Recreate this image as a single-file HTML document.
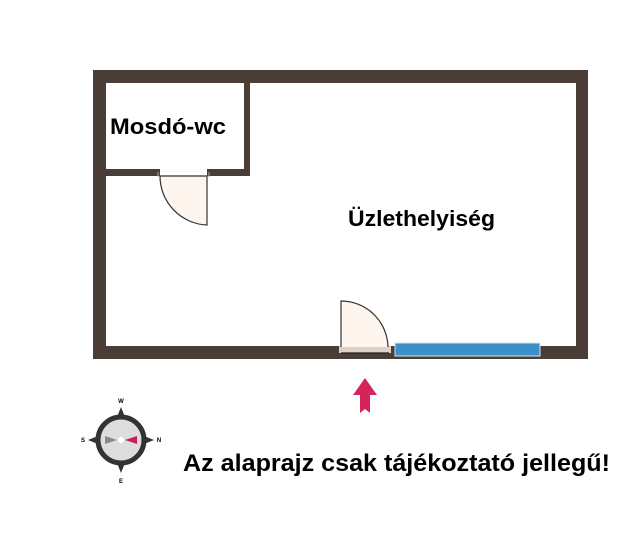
<!DOCTYPE html>
<html><head><meta charset="utf-8"><style>
html,body{margin:0;padding:0;background:#fff;}
svg{display:block;}
text{font-family:"Liberation Sans",Arial,sans-serif;font-weight:bold;fill:#000;}
</style></head><body>
<svg width="640" height="535" viewBox="0 0 640 535" xmlns="http://www.w3.org/2000/svg">
<rect width="640" height="535" fill="#fff"/>
<!-- outer walls -->
<rect x="93" y="70" width="495" height="13" fill="#4a3d36"/>
<rect x="93" y="70" width="13" height="289" fill="#4a3d36"/>
<rect x="576" y="70" width="12" height="289" fill="#4a3d36"/>
<rect x="93" y="346" width="495" height="13" fill="#4a3d36"/>
<!-- inner walls -->
<rect x="244" y="83" width="6" height="93" fill="#4a3d36"/>
<rect x="106" y="169" width="144" height="7" fill="#4a3d36"/>
<!-- wc door -->
<rect x="160" y="169" width="47" height="7" fill="#fff"/>
<path d="M207 176 L207 225 A49 49 0 0 1 160 176 Z" fill="#fdf5ee" stroke="#333" stroke-width="1.2"/>
<line x1="158" y1="172" x2="158" y2="177" stroke="#aaa"/>
<line x1="209" y1="172" x2="209" y2="177" stroke="#aaa"/>
<!-- entrance door -->
<rect x="339" y="346" width="52" height="7" fill="#ddd2c8"/>
<line x1="341" y1="353" x2="389" y2="353" stroke="#222" stroke-width="1.2"/>
<path d="M341 347 L341 301 A47 47 0 0 1 388 347" fill="#fdf5ee" stroke="#333" stroke-width="1.2"/>
<!-- window -->
<rect x="392" y="341" width="150" height="5" fill="#fff"/>
<rect x="395" y="343" width="145" height="13" fill="#3d8fc8" stroke="#cde6f5" stroke-width="1"/>
<!-- labels -->
<text x="110" y="134" font-size="22" textLength="116" lengthAdjust="spacingAndGlyphs">Mosdó-wc</text>
<text x="348" y="226" font-size="22" textLength="147" lengthAdjust="spacingAndGlyphs">Üzlethelyiség</text>
<text x="183" y="471" font-size="24" textLength="427" lengthAdjust="spacingAndGlyphs">Az alaprajz csak tájékoztató jellegű!</text>
<!-- arrow -->
<path d="M365 378 L377 395 L370 395 L370 413 L365 409 L360 413 L360 395 L353 395 Z" fill="#d4245a"/>
<!-- compass -->
<g transform="translate(121,440)">
<path d="M0 -33 L6 -18 L0 -20 L-6 -18Z M0 33 L6 18 L0 20 L-6 18Z M-33 0 L-18 6 L-20 0 L-18 -6Z M33 0 L18 6 L20 0 L18 -6Z" fill="#333"/>
<circle r="23" fill="#ddd" stroke="#333" stroke-width="5"/>
<path d="M4 0 L16 -4 L16 4Z" fill="#c81e50"/>
<path d="M-4 0 L-16 -4 L-16 4Z" fill="#888"/>
<circle r="3" fill="#fff"/>
<text x="0" y="-37" font-size="6" text-anchor="middle" font-weight="normal" fill="#555">W</text>
<text x="0" y="43" font-size="6" text-anchor="middle" font-weight="normal" fill="#555">E</text>
<text x="-38" y="2" font-size="6" text-anchor="middle" font-weight="normal" fill="#555">S</text>
<text x="38" y="2" font-size="6" text-anchor="middle" font-weight="normal" fill="#555">N</text>
</g>
</svg>
</body></html>
